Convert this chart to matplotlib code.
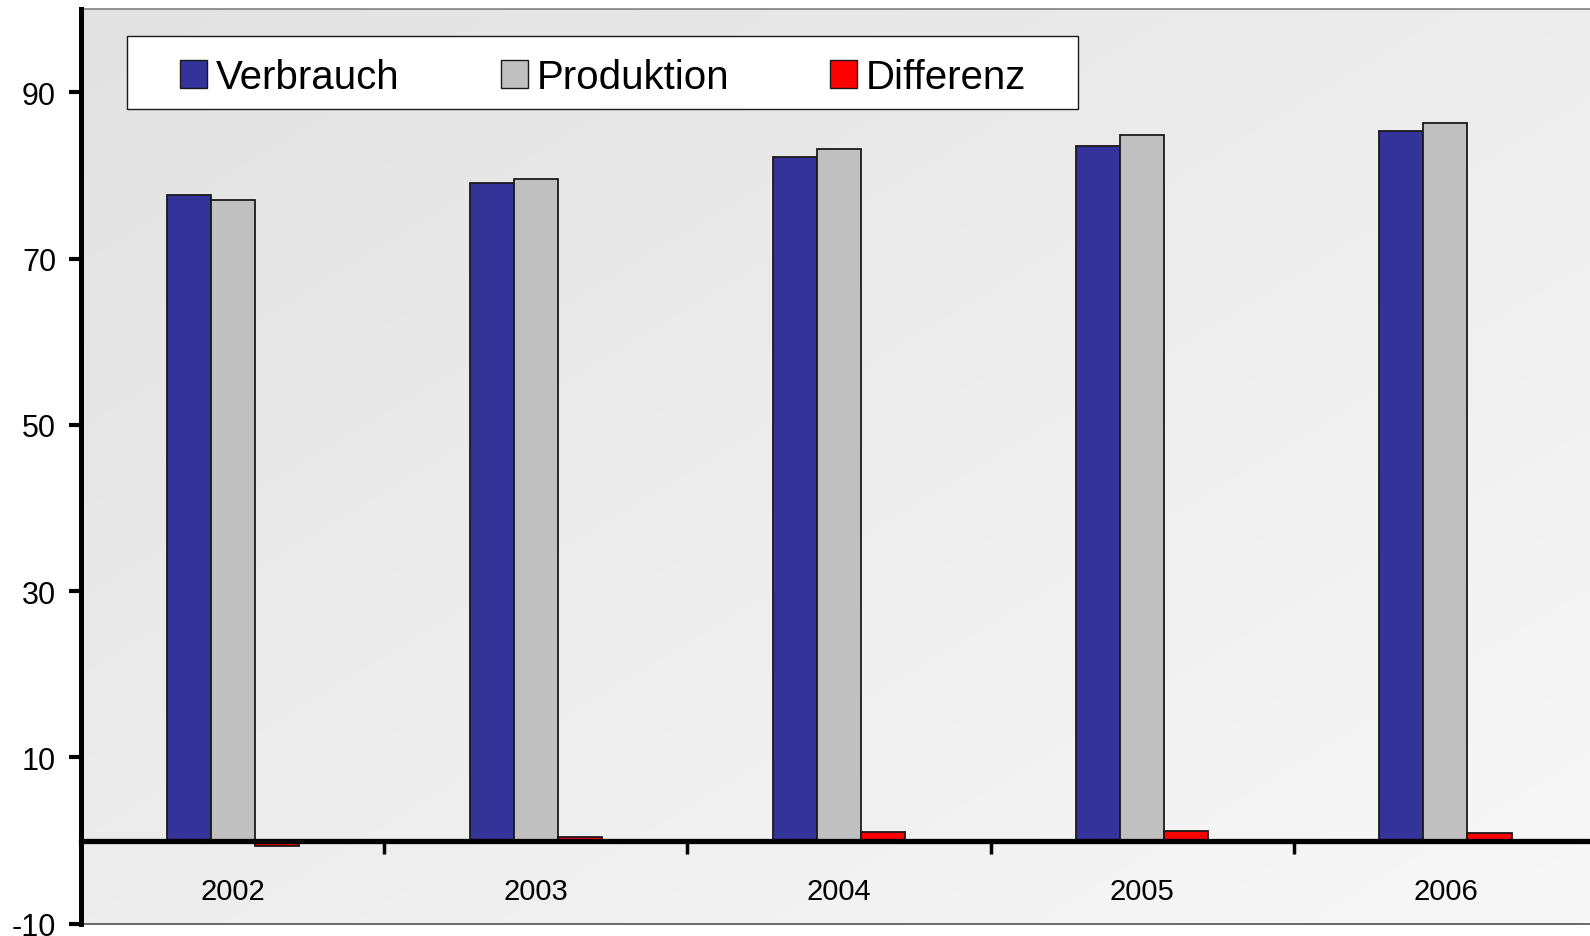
import numpy as np
import matplotlib
matplotlib.use("Agg")
import matplotlib.pyplot as plt
from matplotlib.patches import Rectangle, Patch
from matplotlib.colors import LinearSegmentedColormap

years = ['2002', '2003', '2004', '2005', '2006']
verbrauch = [77.7, 79.1, 82.2, 83.5, 85.4]
produktion = [77.0, 79.6, 83.2, 84.8, 86.3]
differenz = [-0.7, 0.4, 1.0, 1.2, 0.9]
y_ticks = [-10, 10, 30, 50, 70, 90]

C_VERB = '#333399'
C_PROD = '#c0c0c0'
C_DIFF = '#ff0000'
TICKFONT = ['Liberation Sans', 'DejaVu Sans']

fig = plt.figure(figsize=(15.9, 9.37), dpi=100)
ax = fig.add_axes([0.0510, 0.01302, 0.9534, 0.9762])

# diagonal grey gradient background (darker top-left, lighter bottom-right)
bg = LinearSegmentedColormap.from_list('bg', ['#e2e2e2', '#f8f8f8'])
gx, gy = np.meshgrid(np.linspace(0, 1, 200), np.linspace(0, 1, 200))
grad = 0.5 * (gx + gy)
ax.imshow(grad, extent=[0, 1, 0, 1], transform=ax.transAxes, aspect='auto',
          cmap=bg, vmin=0, vmax=1, zorder=0, origin='upper')

x = np.arange(len(years))
w = 0.1455
kw = dict(edgecolor='#1a1a1a', linewidth=1.3, zorder=3)
ax.bar(x - w, verbrauch, w, color=C_VERB, **kw)
ax.bar(x, produktion, w, color=C_PROD, **kw)
ax.bar(x + w, differenz, w, color=C_DIFF, **kw)

ax.set_xlim(-0.5, 4.5)
ax.set_ylim(-10, 100)

ax.spines['right'].set_visible(False)
ax.spines['top'].set_color('#808080')
ax.spines['top'].set_linewidth(1.2)
ax.spines['left'].set_linewidth(3.6)
ax.spines['left'].set_zorder(5)
ax.spines['bottom'].set_position(('data', 0))
ax.spines['bottom'].set_linewidth(3.8)
ax.spines['bottom'].set_zorder(5)
ax.axhline(-10, color='#505050', lw=1.2, zorder=4, clip_on=False)

ax.set_yticks(y_ticks)
ax.set_yticklabels([str(v) for v in y_ticks], family=TICKFONT, fontsize=22)
ax.tick_params(axis='y', direction='out', length=9, width=3, pad=9)

ax.set_xticks([0.5, 1.5, 2.5, 3.5])
ax.set_xticklabels([])
ax.tick_params(axis='x', which='major', direction='out', length=9, width=2.5)
ax.set_xticks(x, minor=True)
ax.set_xticklabels(years, minor=True, family=TICKFONT, fontsize=21)
ax.tick_params(axis='x', which='minor', length=0, pad=26)

# legend box
fig.add_artist(Rectangle((0.0797, 0.8821), 0.5982, 0.0779, transform=fig.transFigure,
                         facecolor='white', edgecolor='#1a1a1a', linewidth=1.0, zorder=4))
handles = [Patch(facecolor=C_VERB, edgecolor='#1a1a1a', label='Verbrauch'),
           Patch(facecolor=C_PROD, edgecolor='#1a1a1a', label='Produktion'),
           Patch(facecolor=C_DIFF, edgecolor='#1a1a1a', label='Differenz')]
leg = fig.legend(handles=handles, loc='center left', bbox_to_anchor=(0.1135, 0.9165),
                 ncol=3, frameon=False, borderpad=0, borderaxespad=0,
                 handlelength=0.67, handleheight=0.67, handletextpad=0.22,
                 columnspacing=2.5, prop={'family': 'Liberation Sans', 'size': 29})
leg.set_zorder(5)

fig.savefig('out.png', dpi=100)
